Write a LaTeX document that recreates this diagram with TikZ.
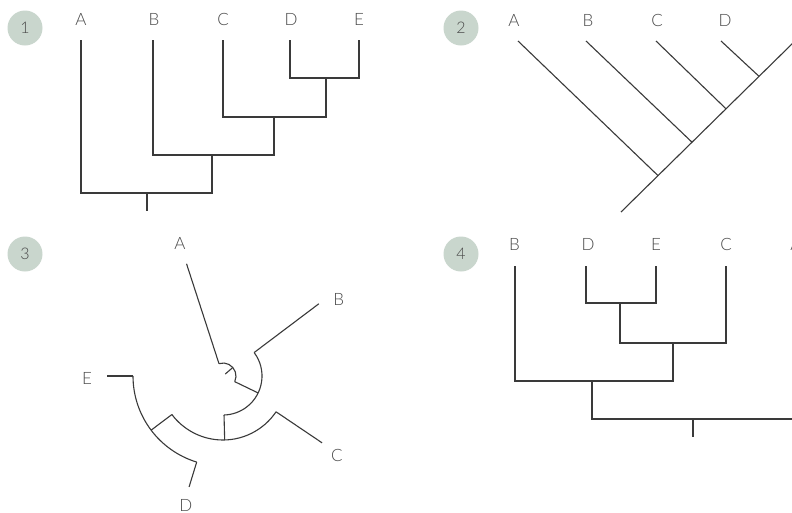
\documentclass[tikz,border=0pt]{standalone}
\usepackage{fontspec}
\setmainfont{Lato}[UprightFont={* Light}]
\definecolor{ink}{HTML}{3A3A3A}
\definecolor{labelgray}{HTML}{4A4A4A}
\definecolor{sage}{HTML}{C9D6CD}

\begin{document}
\begin{tikzpicture}[x=1pt,y=-1pt,
  branch/.style={draw=ink,line width=1.1pt},
  leaf/.style={text=labelgray,font=\fontsize{17}{17}\selectfont,inner sep=0pt},
  badge/.style={circle,fill=sage,minimum size=35pt,inner sep=0pt,
                text=labelgray,font=\fontsize{16}{16}\selectfont}]
\useasboundingbox (0,0) rectangle (792,512);
\clip (0,0) rectangle (792,512);
\fill[white] (0,0) rectangle (792,512);

% panel numbers
\node[badge] (tag1) at (25,28) {1};
\node[badge] (tag2) at (461,28) {2};
\node[badge] (tag3) at (25,254) {3};
\node[badge] (tag4) at (461,254) {4};

% ---------- 1: rectangular cladogram ----------
\node[leaf] (lA1) at (81,19) {A};
\node[leaf] (lB1) at (154,19) {B};
\node[leaf] (lC1) at (223,19) {C};
\node[leaf] (lD1) at (291,19) {D};
\node[leaf] (lE1) at (359,19) {E};
\coordinate (a1) at (81,40);
\coordinate (b1) at (153,40);
\coordinate (c1) at (223,40);
\coordinate (d1) at (290,40);
\coordinate (e1) at (359,40);
\coordinate (de1) at (326,78);
\coordinate (cde1) at (274,117);
\coordinate (bcde1) at (212,155);
\coordinate (root1) at (147,193);
\coordinate (stub1) at (147,211);
\draw[branch] (d1) |- (de1) -| (e1);
\draw[branch] (c1) |- (cde1) -| (de1);
\draw[branch] (b1) |- (bcde1) -| (cde1);
\draw[branch] (a1) |- (root1) -| (bcde1);
\draw[branch] (root1) -- (stub1);

% ---------- 2: diagonal cladogram ----------
\node[leaf] (lA2) at (514,20) {A};
\node[leaf] (lB2) at (588,20) {B};
\node[leaf] (lC2) at (657,20) {C};
\node[leaf] (lD2) at (725,20) {D};
\node[leaf] (lE2) at (796,20) {E};
\coordinate (a2) at (518,41);
\coordinate (b2) at (586,41);
\coordinate (c2) at (656,41);
\coordinate (d2) at (721,41);
\coordinate (e2) at (795,41);
\coordinate (root2) at (621,212);
\coordinate (na2) at (658,175.6);
\coordinate (nb2) at (692,142.2);
\coordinate (nc2) at (726,108.8);
\coordinate (nd2) at (759,76.3);
\draw[branch] (root2) -- (e2);
\draw[branch] (a2) -- (na2);
\draw[branch] (b2) -- (nb2);
\draw[branch] (c2) -- (nc2);
\draw[branch] (d2) -- (nd2);

% ---------- 3: circular cladogram ----------
\begin{scope}[shift={(223,376)}]
  \node[leaf] (lA3) at (-108:139) {A};
  \node[leaf] (lB3) at (-33.6:139) {B};
  \node[leaf] (lC3) at (35:139) {C};
  \node[leaf] (lD3) at (106:135) {D};
  \node[leaf] (lE3) at (179:136) {E};
  % root arc and its stub pointing to the centre
  \coordinate (ra3) at (-108:13);
  \coordinate (stubin3) at (-41:3);
  \coordinate (stubout3) at (-41:13);
  \coordinate (rb3) at (25.75:13);
  \draw[branch] (ra3) arc[start angle=-108, end angle=25.75, radius=13];
  \draw[branch] (stubout3) -- (stubin3);
  % A
  \coordinate (a3) at (-108:118);
  \draw[branch] (ra3) -- (a3);
  % (B,(C,(D,E)))
  \coordinate (n3) at (25.75:39);
  \draw[branch] (rb3) -- (n3);
  \coordinate (bin3) at (-37:39);
  \coordinate (b3) at (-37:120);
  \coordinate (cdeup3) at (88.5:39);
  \draw[branch] (bin3) arc[start angle=-37, end angle=88.5, radius=39];
  \draw[branch] (bin3) -- (b3);
  % (C,(D,E))
  \coordinate (cde3) at (88.5:64);
  \draw[branch] (cdeup3) -- (cde3);
  \coordinate (cin3) at (34:64);
  \coordinate (c3) at (34:119.5);
  \coordinate (dein3) at (143:64);
  \draw[branch] (cin3) arc[start angle=34, end angle=143, radius=64];
  \draw[branch] (cin3) -- (c3);
  % (D,E)
  \coordinate (de3) at (143:90);
  \draw[branch] (dein3) -- (de3);
  \coordinate (din3) at (107:90);
  \coordinate (d3) at (107:116);
  \coordinate (ein3) at (180:90);
  \coordinate (e3) at (180:116);
  \draw[branch] (din3) arc[start angle=107, end angle=180, radius=90];
  \draw[branch] (din3) -- (d3);
  \draw[branch] (ein3) -- (e3);
\end{scope}

% ---------- 4: rectangular cladogram, rotated clades ----------
\node[leaf] (lB4) at (514.5,244) {B};
\node[leaf] (lD4) at (588,244) {D};
\node[leaf] (lE4) at (656,244) {E};
\node[leaf] (lC4) at (726,244) {C};
\node[leaf] (lA4) at (796,244) {A};
\coordinate (b4) at (515,266);
\coordinate (d4) at (586,266);
\coordinate (e4) at (656,266);
\coordinate (c4) at (726,266);
\coordinate (a4) at (795,266);
\coordinate (de4) at (620,303);
\coordinate (cde4) at (673,343);
\coordinate (bcde4) at (592,381);
\coordinate (root4) at (693,419);
\coordinate (stub4) at (693,437);
\draw[branch] (d4) |- (de4) -| (e4);
\draw[branch] (de4) |- (cde4) -| (c4);
\draw[branch] (b4) |- (bcde4) -| (cde4);
\draw[branch] (bcde4) |- (root4) -| (a4);
\draw[branch] (root4) -- (stub4);
\end{tikzpicture}
\end{document}
